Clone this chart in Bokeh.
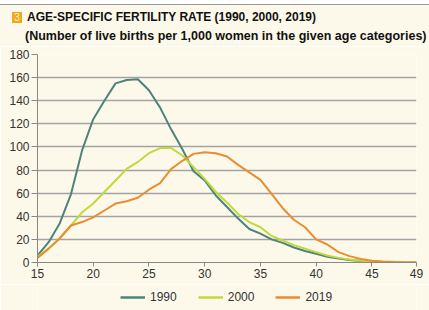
from bokeh.plotting import figure
from bokeh.models import FixedTicker, Legend, LegendItem, Range1d, Div
from bokeh.layouts import column
from bokeh.embed import file_html
from bokeh.resources import INLINE

ages = list(range(15, 50))
rate_1990 = [6, 17.6, 34, 59, 97, 124, 140, 155, 158, 158.6, 149, 134, 115, 98, 79, 71, 58, 48, 38, 29,
             25, 20, 17, 13, 10, 7.5, 5, 3.5, 2.2, 1.3, 0.7, 0.3, 0.1, 0.05, 0]
rate_2000 = [5, 12, 21, 32, 43.5, 51, 61, 71, 81, 87, 94.6, 99, 99, 92.6, 82.5, 72.4, 61, 52, 42, 35,
             30.5, 23, 19, 15, 12, 9, 6, 4, 2.5, 1.5, 0.8, 0.4, 0.2, 0.1, 0]
rate_2019 = [4, 12, 21, 32, 35, 39, 45, 51, 53, 56, 63, 68.7, 81, 88, 94, 95.5, 94.6, 91.7, 84.5, 78,
             71.5, 59.4, 47, 37, 30.5, 20, 15.6, 9, 5.5, 3, 1.5, 0.8, 0.4, 0.2, 0.1]
series_names = ["1990", "2000", "2019"]
x_ticks = [15, 20, 25, 30, 35, 40, 45, 49]
y_ticks = list(range(0, 181, 20))
badge = "3"
title1 = "AGE-SPECIFIC FERTILITY RATE (1990, 2000, 2019)"
title2 = "(Number of live births per 1,000 women in the given age categories)"

BG = "#fdf9ea"
FONT = "Liberation Sans"
colors = ["#4e837c", "#bfda3a", "#e88d30"]
W = 429
series = [rate_1990, rate_2000, rate_2019]

# ---- header (title block) ----
header_html = f"""
<div style="position:relative;width:{W}px;height:46px;background:{BG};font-family:'{FONT}';overflow:hidden;">
  <div style="position:absolute;left:0;top:0;width:{W}px;height:5px;background:#ffffff;border-bottom:1px solid #9a9a9a;"></div>
  <span style="position:absolute;left:12px;top:12px;width:10px;height:11px;background:#f2a81e;color:#fff3cc;
        font-size:10px;line-height:11px;text-align:center;">{badge}</span>
  <span style="position:absolute;left:27px;top:10px;font-weight:bold;font-size:12px;line-height:14px;
        color:#111111;white-space:nowrap;">{title1}</span>
  <span style="position:absolute;left:25px;top:29px;font-weight:bold;font-size:12.5px;line-height:14px;
        color:#111111;white-space:nowrap;">{title2}</span>
</div>
"""
h = Div(text=header_html, width=W, height=46, margin=0)

# ---- main chart ----
p = figure(width=W, height=238, output_backend="svg", toolbar_location=None,
           x_range=Range1d(15, 49), y_range=Range1d(0, 180),
           min_border_left=37, min_border_right=13, min_border_top=8, min_border_bottom=22)
p.background_fill_color = BG
p.border_fill_color = BG
p.outline_line_color = None

p.xgrid.visible = False
p.ygrid.grid_line_color = "#a3a3a3"
p.ygrid.grid_line_width = 1.5
p.ygrid.ticker = FixedTicker(ticks=y_ticks)

p.xaxis.ticker = FixedTicker(ticks=x_ticks)
p.yaxis.ticker = FixedTicker(ticks=y_ticks)
for ax in (p.xaxis, p.yaxis):
    ax.axis_line_color = "#888888"
    ax.major_tick_line_color = "#888888"
    ax.minor_tick_line_color = None
    ax.major_tick_in = 0
    ax.major_label_text_font = FONT
    ax.major_label_text_font_size = "12px"
    ax.major_label_text_color = "#333333"
p.xaxis.major_tick_out = 4
p.yaxis.major_tick_out = 6
p.xaxis.major_label_standoff = 2
p.yaxis.major_label_standoff = 2

for vals, c in zip(series, colors):
    p.line(ages, vals, line_color=c, line_width=2)

# ---- footer (legend) ----
# the footer's ranges lie outside the data, so its copies of the series stay hidden
# and only serve as legend keys
f = figure(width=W, height=26, output_backend="svg", toolbar_location=None,
           x_range=Range1d(0, 1), y_range=Range1d(-2, -1),
           x_axis_location=None, y_axis_location=None,
           min_border_left=37, min_border_right=13, min_border_top=0, min_border_bottom=0)
f.background_fill_color = BG
f.border_fill_color = BG
f.outline_line_color = None
f.grid.visible = False
keys = [f.line(ages, vals, line_color=c, line_width=2.5) for vals, c in zip(series, colors)]

legend = Legend(items=[LegendItem(label=n, renderers=[r]) for n, r in zip(series_names, keys)],
                orientation="horizontal", location=(83, 3))
legend.background_fill_alpha = 0
legend.border_line_color = None
legend.padding = 0
legend.margin = 0
legend.spacing = 21
legend.glyph_width = 25
legend.label_standoff = 5
legend.label_text_font = FONT
legend.label_text_font_size = "12px"
legend.label_text_color = "#333333"
f.add_layout(legend, "center")

layout = column(h, p, f, spacing=0)
open("out.html", "w").write(file_html(layout, INLINE))
